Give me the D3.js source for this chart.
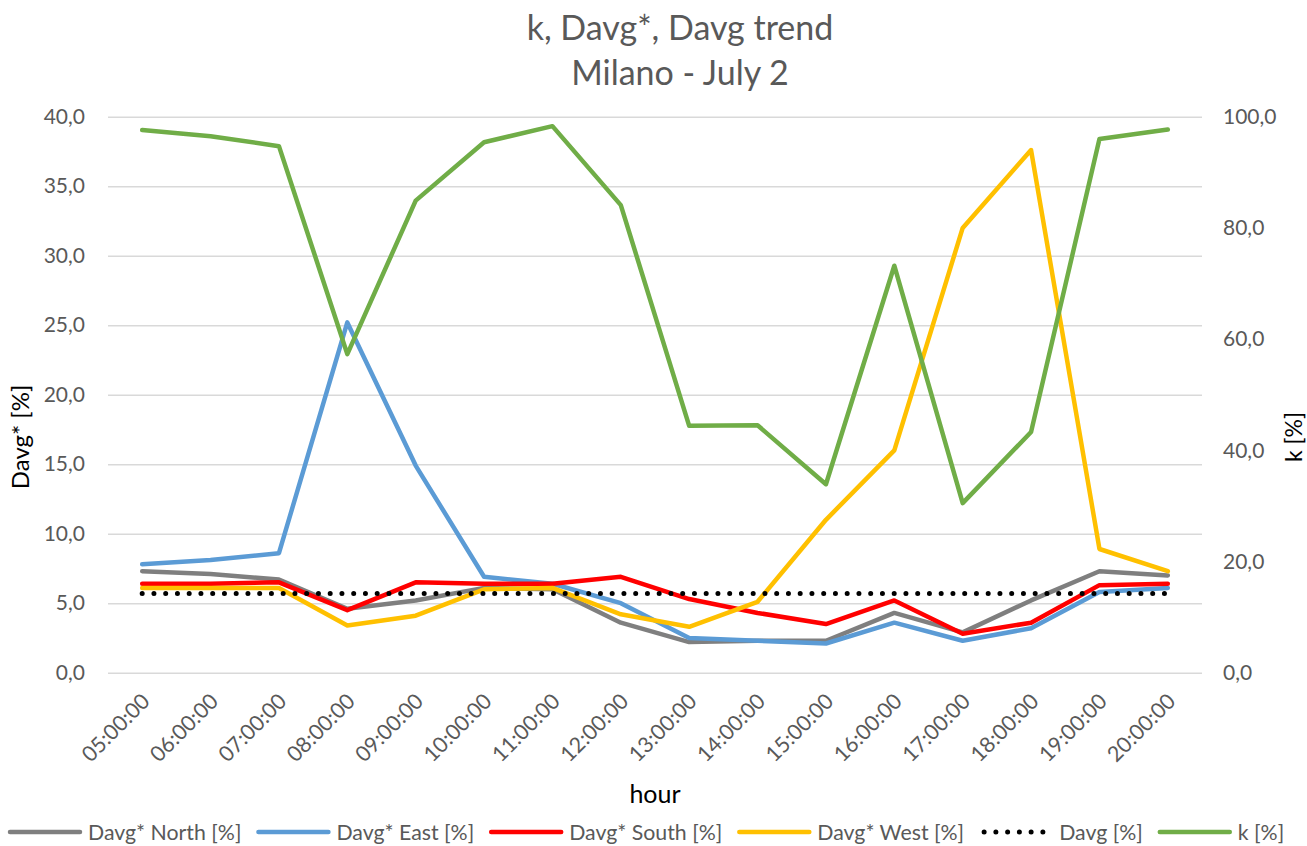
<!DOCTYPE html>
<html>
<head>
<meta charset="utf-8">
<script src="https://cdn.jsdelivr.net/npm/d3@7"></script>
<style>
  html, body { margin: 0; padding: 0; background: #fff; }
  svg text { font-family: Lato, "Open Sans", "Liberation Sans", sans-serif; fill: #595959; }
</style>
</head>
<body>
<svg id="chart" width="1307" height="846"></svg>
<script>
// Hourly categories
const hours = ["05:00:00","06:00:00","07:00:00","08:00:00","09:00:00","10:00:00","11:00:00","12:00:00",
               "13:00:00","14:00:00","15:00:00","16:00:00","17:00:00","18:00:00","19:00:00","20:00:00"];

// Davg* per facade orientation [%] (left axis)
const north = [7.3, 7.1, 6.7, 4.6, 5.2, 6.1, 6.0, 3.6, 2.2, 2.3, 2.3, 4.3, 2.9, 5.2, 7.3, 7.0];
const east  = [7.8, 8.1, 8.6, 25.2, 14.9, 6.9, 6.4, 5.0, 2.5, 2.3, 2.1, 3.6, 2.3, 3.2, 5.8, 6.1];
const south = [6.4, 6.4, 6.5, 4.5, 6.5, 6.4, 6.4, 6.9, 5.3, 4.3, 3.5, 5.2, 2.8, 3.6, 6.3, 6.4];
const west  = [6.1, 6.1, 6.1, 3.4, 4.1, 6.0, 6.1, 4.2, 3.3, 5.1, 11.0, 16.0, 32.0, 37.6, 8.9, 7.3];
// Daily average Davg [%] (left axis)
const davg  = [5.7, 5.7, 5.7, 5.7, 5.7, 5.7, 5.7, 5.7, 5.7, 5.7, 5.7, 5.7, 5.7, 5.7, 5.7, 5.7];
// k [%] (right axis)
const kVals = [97.6, 96.5, 94.7, 57.3, 84.9, 95.4, 98.3, 84.1, 44.4, 44.5, 33.9, 73.2, 30.5, 43.3, 96.0, 97.7];

const leftTicks  = [0, 5, 10, 15, 20, 25, 30, 35, 40];
const rightTicks = [0, 20, 40, 60, 80, 100];

const series = [
  { name: "Davg* North [%]", values: north, color: "#7f7f7f", axis: "L" },
  { name: "Davg* East [%]",  values: east,  color: "#5b9bd5", axis: "L" },
  { name: "Davg* South [%]", values: south, color: "#ff0000", axis: "L" },
  { name: "Davg* West [%]",  values: west,  color: "#ffc000", axis: "L" },
  { name: "Davg [%]",        values: davg,  color: "#000000", axis: "L", dotted: true },
  { name: "k [%]",           values: kVals, color: "#70ad47", axis: "R" }
];

const svg = d3.select("#chart");
const plot = { left: 108, right: 1202, top: 116.7, bottom: 672.7 };
const FONT = "Lato, 'Open Sans', sans-serif";

const x = d3.scaleBand().domain(hours).range([plot.left, plot.right]);
const cx = h => x(h) + x.bandwidth() / 2;
const yL = d3.scaleLinear().domain([0, 40]).range([plot.bottom, plot.top]);
const yR = d3.scaleLinear().domain([0, 100]).range([plot.bottom, plot.top]);

// Gridlines
svg.append("g")
  .attr("transform", `translate(${plot.left},0)`)
  .call(d3.axisLeft(yL).tickValues(leftTicks).tickSize(-(plot.right - plot.left)).tickFormat(""))
  .call(g => g.select(".domain").remove())
  .call(g => g.selectAll("line").attr("stroke", "#d9d9d9").attr("stroke-width", 1.5));

const fmt = v => d3.format(".1f")(v).replace(".", ",");

// Left axis labels
svg.append("g")
  .attr("transform", `translate(${plot.left},0)`)
  .call(d3.axisLeft(yL).tickValues(leftTicks).tickSize(0).tickPadding(23).tickFormat(fmt))
  .call(g => g.select(".domain").remove())
  .call(g => g.selectAll("text").attr("font-size", 21).attr("fill", "#595959").style("font-family", FONT));

// Right axis labels
svg.append("g")
  .attr("transform", `translate(${plot.right},0)`)
  .call(d3.axisRight(yR).tickValues(rightTicks).tickSize(0).tickPadding(21).tickFormat(fmt))
  .call(g => g.select(".domain").remove())
  .call(g => g.selectAll("text").attr("font-size", 21).attr("fill", "#595959").style("font-family", FONT));

// Category axis labels, rotated
svg.append("g")
  .attr("transform", `translate(0,${plot.bottom})`)
  .call(d3.axisBottom(x).tickSize(0).tickPadding(0))
  .call(g => g.select(".domain").remove())
  .call(g => g.selectAll("text")
    .attr("font-size", 21.5).attr("fill", "#595959").style("font-family", FONT)
    .attr("text-anchor", "end")
    .attr("dy", 0)
    .attr("transform", "translate(9,30) rotate(-45)"));

// Lines
const lineFor = s => d3.line()
  .x((d, i) => cx(hours[i]))
  .y(d => (s.axis === "L" ? yL(d) : yR(d)));

series.forEach(s => {
  const p = svg.append("path")
    .datum(s.values)
    .attr("fill", "none")
    .attr("stroke", s.color)
    .attr("d", lineFor(s));
  if (s.dotted) {
    p.attr("stroke-width", 5).attr("stroke-linecap", "round").attr("stroke-dasharray", "0,11.75");
  } else {
    p.attr("stroke-width", 4.5).attr("stroke-linejoin", "round").attr("stroke-linecap", "round");
  }
});

// Titles
svg.append("text").attr("x", 680).attr("y", 40).attr("text-anchor", "middle")
  .attr("font-size", 34).text("k, Davg*, Davg trend");
svg.append("text").attr("x", 680).attr("y", 85).attr("text-anchor", "middle")
  .attr("font-size", 34).text("Milano - July 2");

// Axis titles
svg.append("text").attr("transform", "translate(29,437) rotate(-90)").attr("text-anchor", "middle")
  .attr("font-size", 24).style("fill", "#000").text("Davg* [%]");
svg.append("text").attr("transform", "translate(1302,437) rotate(-90)").attr("text-anchor", "middle")
  .attr("font-size", 23).style("fill", "#000").text("k [%]");
svg.append("text").attr("x", 655).attr("y", 803).attr("text-anchor", "middle")
  .attr("font-size", 25).style("fill", "#000").text("hour");

// Legend
const legend = svg.append("g");
let lx = 10;
const ly = 832;
series.forEach(s => {
  const item = legend.append("g");
  const ln = item.append("line").attr("x1", lx).attr("x2", lx + 70).attr("y1", ly).attr("y2", ly)
    .attr("stroke", s.color);
  if (s.dotted) {
    ln.attr("x1", lx + 3).attr("x2", lx + 62).attr("stroke-width", 5).attr("stroke-linecap", "round")
      .attr("stroke-dasharray", "0,11.75");
  } else {
    ln.attr("stroke-width", 4.5).attr("stroke-linecap", "round");
  }
  const t = item.append("text").attr("x", lx + 78).attr("y", ly + 8).attr("font-size", 21.3).text(s.name);
  lx += 78 + t.node().getComputedTextLength() + 17;
});
</script>
</body>
</html>
